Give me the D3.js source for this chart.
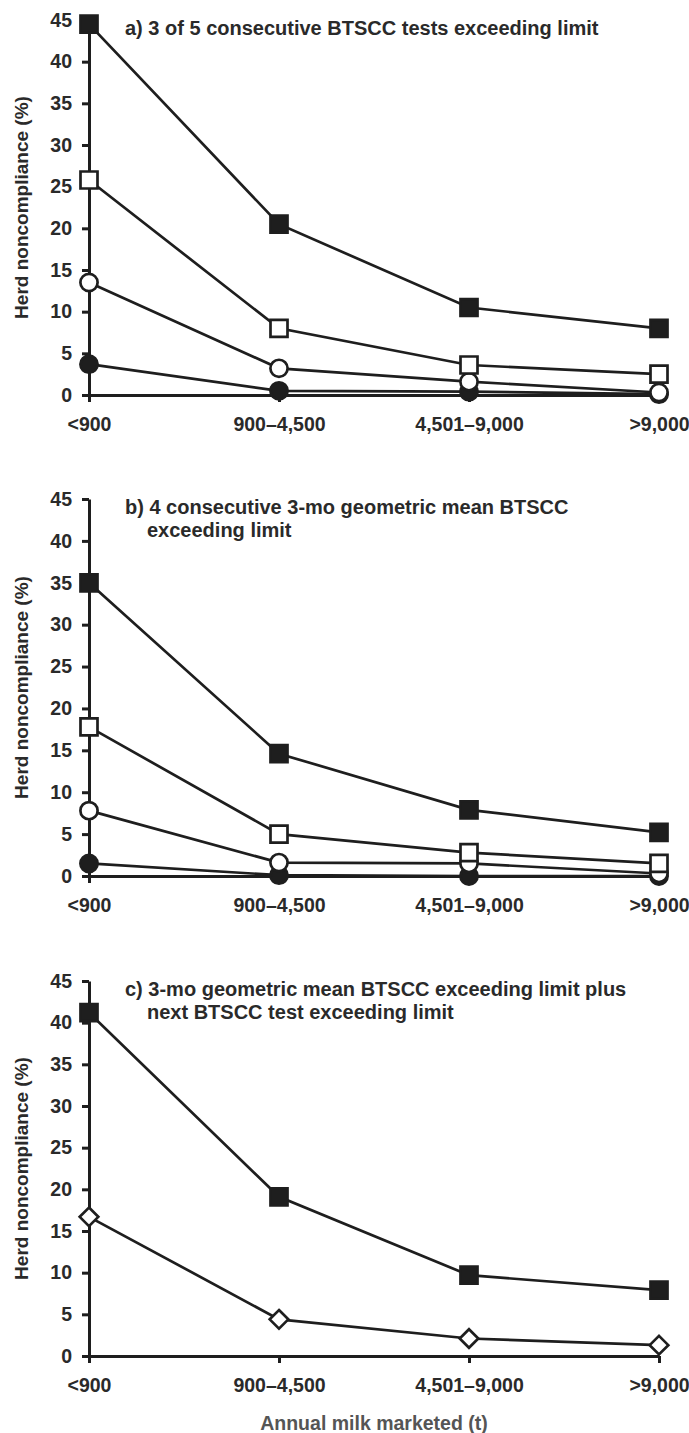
<!DOCTYPE html>
<html>
<head>
<meta charset="utf-8">
<script src="https://cdn.jsdelivr.net/npm/d3@7"></script>
<style>
  body { margin: 0; background: #fff; }
  svg { display: block; font-family: "Liberation Sans", Arial, sans-serif; }
  .axis path, .axis line { stroke: #1e1e1e; stroke-width: 3px; }
  .axis text { font-size: 19.5px; font-weight: bold; fill: #2a2a2a; }
  .title { font-size: 20px; font-weight: bold; fill: #2a2a2a; }
  .ylabel { font-size: 19px; font-weight: bold; fill: #2a2a2a; }
  .xlabel { font-size: 19.5px; font-weight: bold; fill: #555; }
</style>
</head>
<body>
<div id="chart"></div>
<script>
var categories = ["<900", "900–4,500", "4,501–9,000", ">9,000"];
var yTicks = [0, 5, 10, 15, 20, 25, 30, 35, 40, 45];

// a) 3 of 5 consecutive tests
var aFilledSquare = [44.5, 20.5, 10.5, 8.0];
var aOpenSquare   = [25.8, 8.0, 3.6, 2.5];
var aOpenCircle   = [13.5, 3.2, 1.6, 0.3];
var aFilledCircle = [3.7, 0.5, 0.4, 0.1];

// b) 4 consecutive 3-mo geometric mean
var bFilledSquare = [35.0, 14.6, 7.9, 5.2];
var bOpenSquare   = [17.8, 5.0, 2.8, 1.5];
var bOpenCircle   = [7.8, 1.6, 1.5, 0.3];
var bFilledCircle = [1.5, 0.1, 0.0, 0.0];

// c) 3-mo geometric mean plus next test
var cFilledSquare = [41.2, 19.1, 9.7, 7.9];
var cOpenDiamond  = [16.7, 4.4, 2.1, 1.3];

var panels = [
  { top: 20, bottom: 395, title: ["a) 3 of 5 consecutive BTSCC tests exceeding limit"],
    series: [
      { values: aFilledCircle, shape: "circle", fill: "#1e1e1e" },
      { values: aOpenCircle, shape: "circle", fill: "#fff" },
      { values: aOpenSquare, shape: "square", fill: "#fff" },
      { values: aFilledSquare, shape: "square", fill: "#1e1e1e" }
    ] },
  { top: 499, bottom: 876, title: ["b) 4 consecutive 3-mo geometric mean BTSCC", "exceeding limit"],
    series: [
      { values: bFilledCircle, shape: "circle", fill: "#1e1e1e" },
      { values: bOpenCircle, shape: "circle", fill: "#fff" },
      { values: bOpenSquare, shape: "square", fill: "#fff" },
      { values: bFilledSquare, shape: "square", fill: "#1e1e1e" }
    ] },
  { top: 981, bottom: 1356, title: ["c) 3-mo geometric mean BTSCC exceeding limit plus", "next BTSCC test exceeding limit"],
    series: [
      { values: cOpenDiamond, shape: "diamond", fill: "#fff" },
      { values: cFilledSquare, shape: "square", fill: "#1e1e1e" }
    ] }
];

var width = 689, height = 1433;
var svg = d3.select("#chart").append("svg")
  .attr("width", width)
  .attr("height", height);

var x = d3.scalePoint()
  .domain(categories)
  .range([89, 659]);

var symbols = {
  circle: d3.symbol().type(d3.symbolCircle).size(Math.PI * 8.6 * 8.6),
  square: d3.symbol().type(d3.symbolSquare).size(17 * 17),
  diamond: d3.symbol().type(d3.symbolDiamond2).size(2 * 10.5 * 10.5)
};

panels.forEach(function(p) {
  var y = d3.scaleLinear().domain([0, 45]).range([p.bottom, p.top]);
  var g = svg.append("g");

  g.append("g")
    .attr("class", "axis")
    .attr("transform", "translate(89,0)")
    .call(d3.axisLeft(y).tickValues(yTicks).tickSize(7).tickSizeOuter(0).tickPadding(10));

  g.append("g")
    .attr("class", "axis")
    .attr("transform", "translate(0," + p.bottom + ")")
    .call(d3.axisBottom(x).tickSize(7).tickSizeOuter(0).tickPadding(15));

  g.append("text")
    .attr("class", "ylabel")
    .attr("transform", "translate(28," + (p.top + p.bottom) / 2 + ") rotate(-90)")
    .attr("text-anchor", "middle")
    .text("Herd noncompliance (%)");

  var t = g.append("text")
    .attr("class", "title")
    .attr("x", 125)
    .attr("y", p.top + 15);
  p.title.forEach(function(line, i) {
    t.append("tspan")
      .attr("x", i === 0 ? 125 : 147)
      .attr("dy", i === 0 ? 0 : 23)
      .text(line);
  });

  var line = d3.line()
    .x(function(d, i) { return x(categories[i]); })
    .y(function(d) { return y(d); });

  p.series.forEach(function(s) {
    g.append("path")
      .attr("d", line(s.values))
      .attr("fill", "none")
      .attr("stroke", "#1e1e1e")
      .attr("stroke-width", 2.7);
  });

  p.series.forEach(function(s) {
    g.selectAll(null)
      .data(s.values)
      .enter().append("path")
      .attr("d", symbols[s.shape])
      .attr("transform", function(d, i) { return "translate(" + x(categories[i]) + "," + y(d) + ")"; })
      .attr("fill", s.fill)
      .attr("stroke", "#1e1e1e")
      .attr("stroke-width", 2.7);
  });
});

svg.append("text")
  .attr("class", "xlabel")
  .attr("x", 374)
  .attr("y", 1430)
  .attr("text-anchor", "middle")
  .text("Annual milk marketed (t)");
</script>
</body>
</html>
